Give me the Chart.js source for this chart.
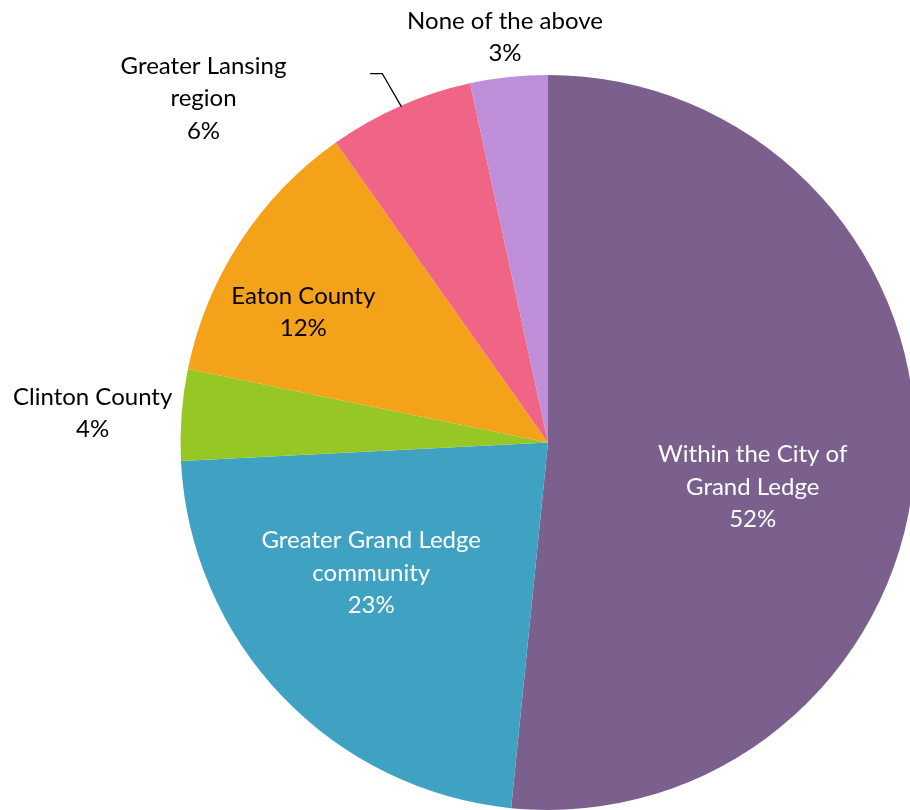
<!DOCTYPE html>
<html>
<head>
<meta charset="utf-8">
<script src="https://cdn.jsdelivr.net/npm/chart.js@4/dist/chart.umd.min.js"></script>
<style>
  html, body { margin: 0; padding: 0; background: #fff; }
  #wrap { width: 910px; height: 810px; overflow: hidden; position: relative; }
  canvas { display: block; }
</style>
</head>
<body>
<div id="wrap"><canvas id="pie" width="930" height="810"></canvas></div>
<script>
// values (percent of respondents)
var categories = ["Within the City of Grand Ledge", "Greater Grand Ledge community", "Clinton County", "Eaton County", "Greater Lansing region", "None of the above"];
var values = [51.6, 22.6, 4.0, 12.0, 6.4, 3.4];
var percentLabels = ["52%", "23%", "4%", "12%", "6%", "3%"];
var labelLines = [["Within the City of", "Grand Ledge"], ["Greater Grand Ledge", "community"], ["Clinton County"], ["Eaton County"], ["Greater Lansing", "region"], ["None of the above"]];
var colors = ["#7B608E", "#3FA2C2", "#96C725", "#F4A21A", "#F06586", "#BE8FD8"];

// where each label sits, as a fraction of the pie radius from its centre
var labelSpots = [
  {fx: 0.557, fy: 0.121, color: "#ffffff"},
  {fx: -0.481, fy: 0.355, color: "#ffffff"},
  {fx: -1.239, fy: -0.079, color: "#000000"},
  {fx: -0.666, fy: -0.355, color: "#000000"},
  {fx: -0.9375, fy: -0.936, color: "#000000", leader: [[-0.484, -1.004], [-0.451, -1.004], [-0.399, -0.914]]},
  {fx: -0.117, fy: -1.102, color: "#000000"}
];

var pieLabels = {
  id: "pieLabels",
  afterDatasetsDraw: function(chart) {
    var ctx = chart.ctx;
    var arcs = chart.getDatasetMeta(0).data;
    ctx.save();
    ctx.font = "24px Lato, 'Open Sans', sans-serif";
    ctx.textAlign = "center";
    ctx.textBaseline = "middle";
    arcs.forEach(function(arc, i) {
      var cx = arc.x, cy = arc.y, r = arc.outerRadius;
      var spot = labelSpots[i];
      if (spot.leader) {
        ctx.beginPath();
        ctx.strokeStyle = "#000";
        ctx.lineWidth = 1.3;
        spot.leader.forEach(function(p, k) {
          var px = cx + p[0] * r, py = cy + p[1] * r;
          if (k == 0) ctx.moveTo(px, py); else ctx.lineTo(px, py);
        });
        ctx.stroke();
      }
      var lines = labelLines[i].concat([percentLabels[i]]);
      var lh = 32.5;
      var x = cx + spot.fx * r;
      var y0 = cy + spot.fy * r - (lines.length - 1) * lh / 2;
      ctx.fillStyle = spot.color;
      lines.forEach(function(t, k) {
        ctx.fillText(t, x, y0 + k * lh);
      });
    });
    ctx.restore();
  }
};

var data = {
  labels: categories,
  datasets: [{
    data: values,
    backgroundColor: colors,
    borderWidth: 0
  }]
};

var ctx = document.getElementById("pie");
var myPie = new Chart(ctx, {
  type: "pie",
  data: data,
  options: {
    responsive: false,
    animation: false,
    layout: { padding: { left: 180, right: 14, top: 75, bottom: 0 } },
    plugins: {
      legend: { display: false },
      tooltip: { enabled: false }
    }
  },
  plugins: [pieLabels]
});
</script>
</body>
</html>
